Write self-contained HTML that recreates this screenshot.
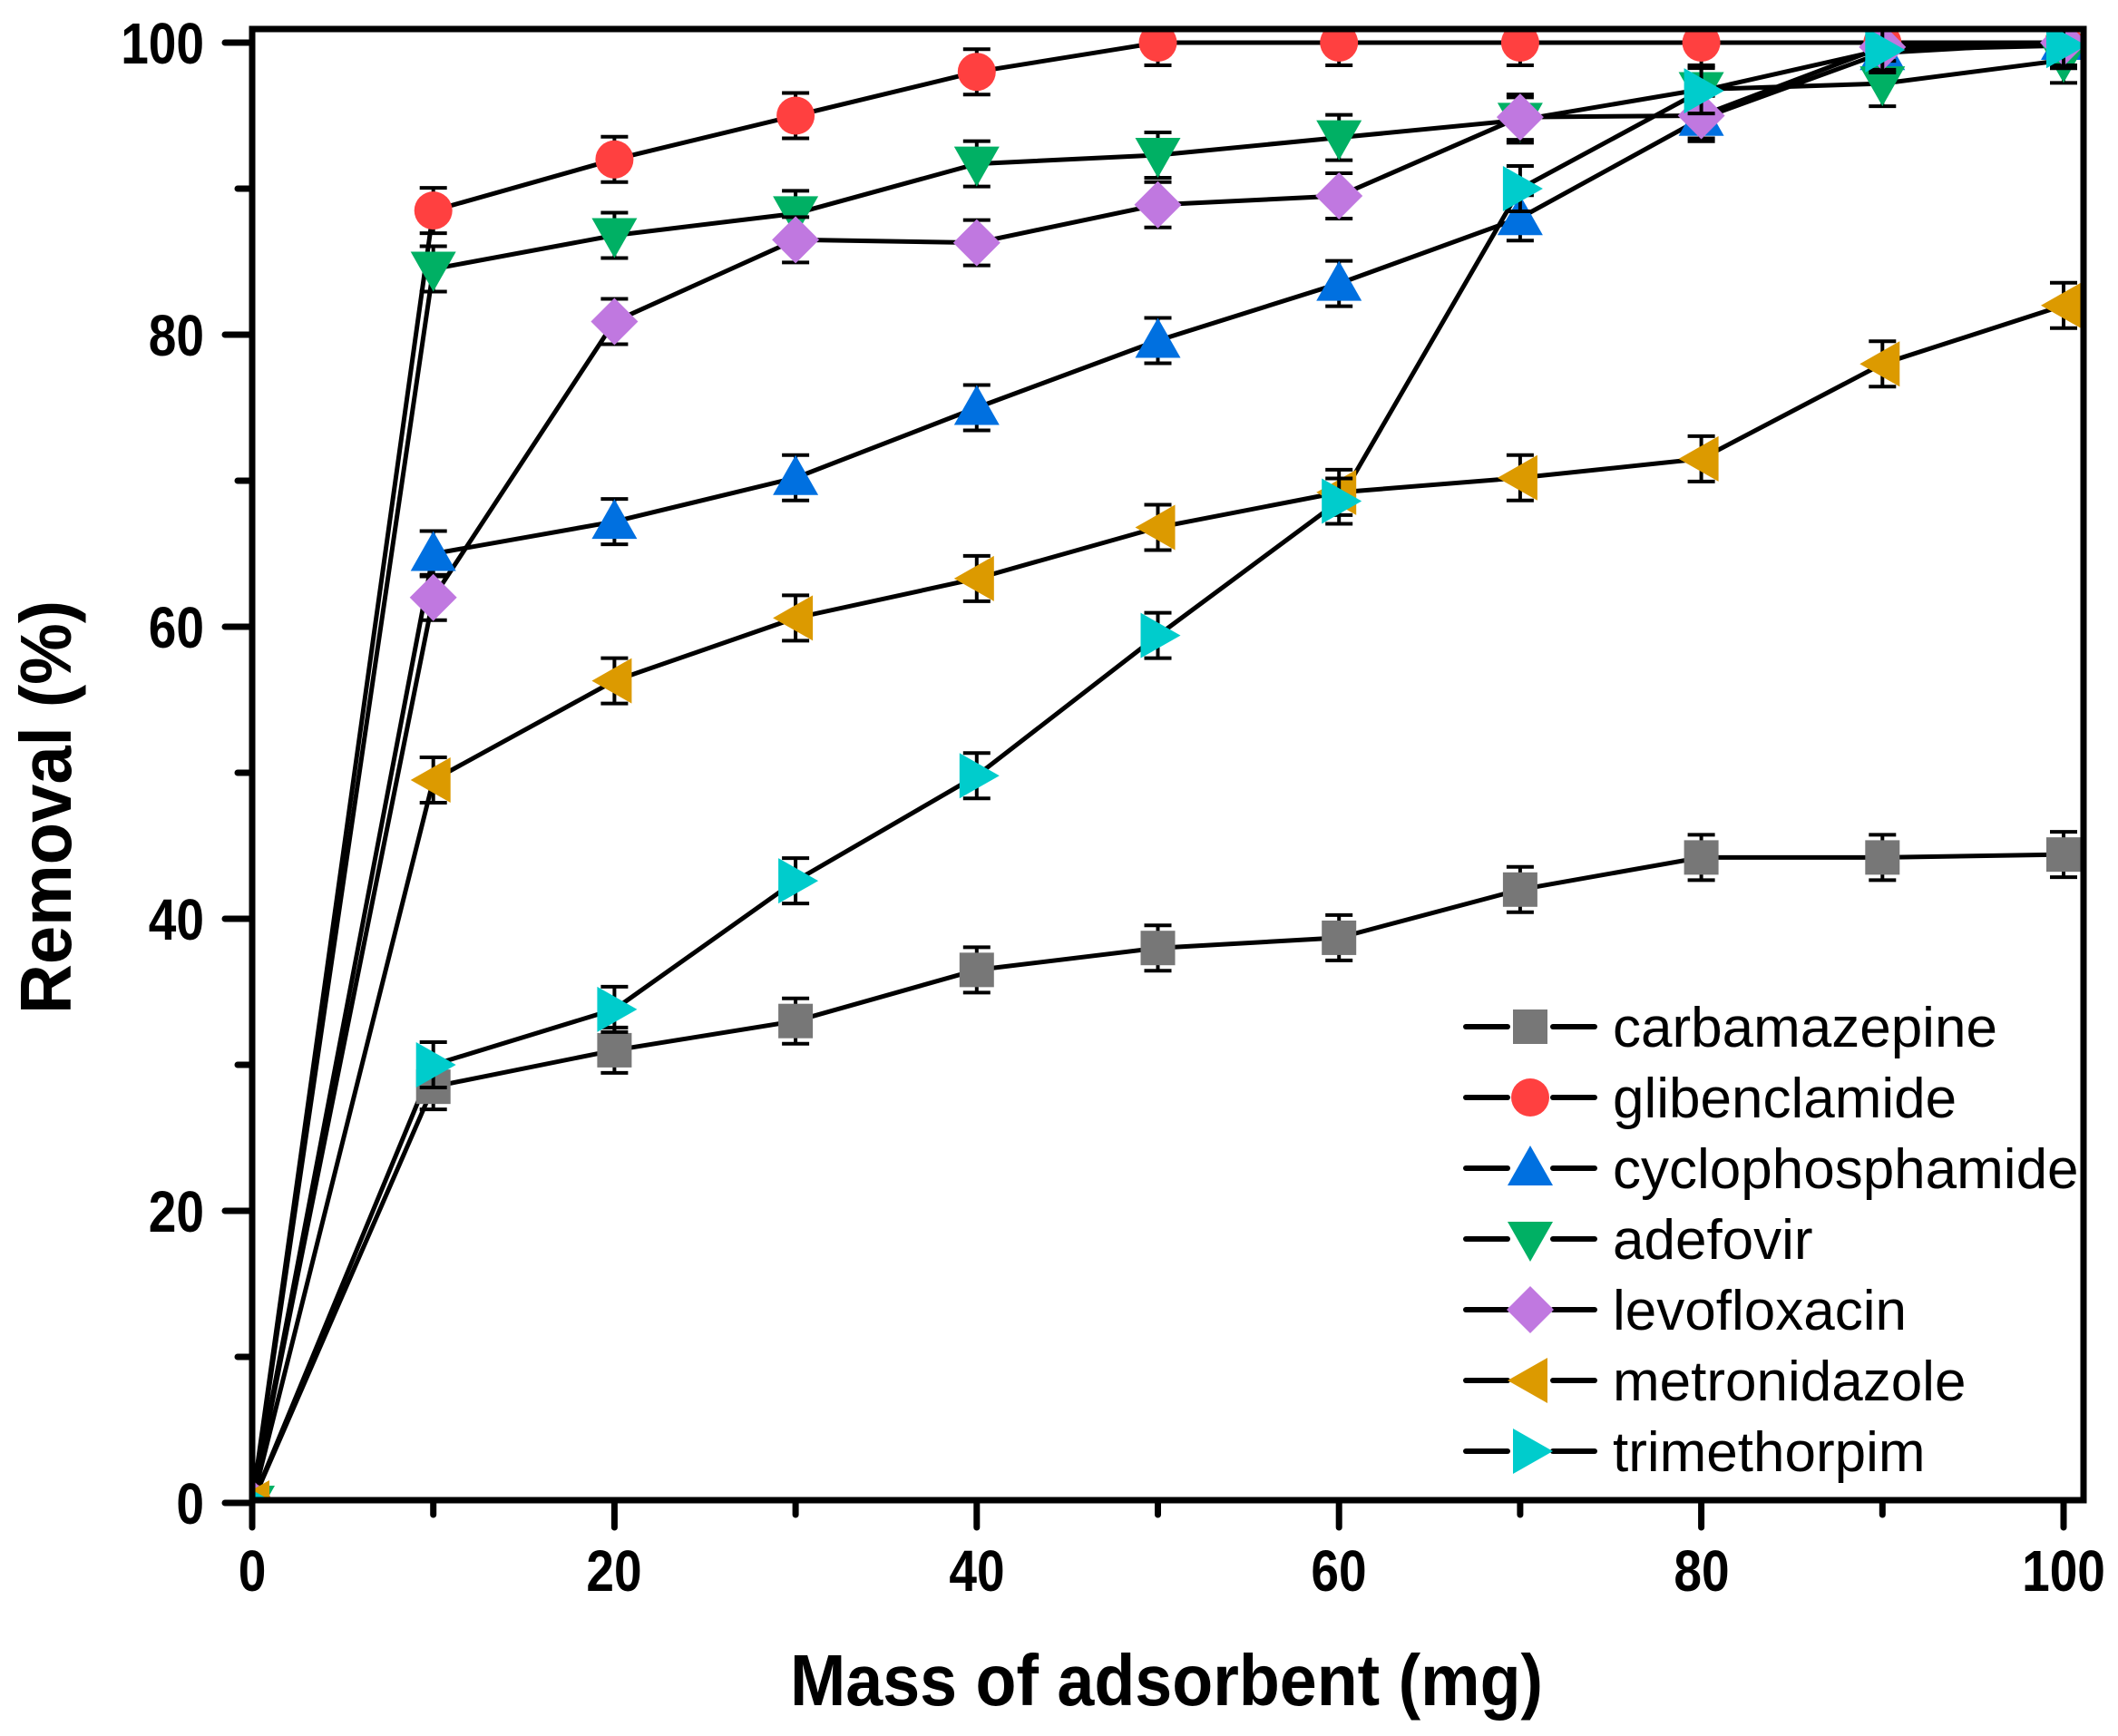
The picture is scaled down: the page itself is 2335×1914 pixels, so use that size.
<!DOCTYPE html>
<html><head><meta charset="utf-8"><style>
html,body{margin:0;padding:0;background:#fff;}
svg{display:block;}
text{font-family:"Liberation Sans",Arial,sans-serif;}
</style></head><body>
<svg id="s" width="2335" height="1914" viewBox="0 0 2335 1914" xmlns="http://www.w3.org/2000/svg">
<defs><clipPath id="c"><rect x="278" y="32" width="2019" height="1622"/></clipPath></defs>
<g id="plot" clip-path="url(#c)"></g>
<g id="axes" stroke="#000" stroke-width="7" fill="none" stroke-linecap="round">
<rect x="278" y="32" width="2019" height="1622"/>
</g>
<g font-weight="bold" font-size="64" text-anchor="end">
<text transform="translate(225,70) scale(0.86,1)">100</text>
<text transform="translate(225,392) scale(0.86,1)">80</text>
<text transform="translate(225,714) scale(0.86,1)">60</text>
<text transform="translate(225,1036) scale(0.86,1)">40</text>
<text transform="translate(225,1358) scale(0.86,1)">20</text>
<text transform="translate(225,1680) scale(0.86,1)">0</text>
</g>
<g font-weight="bold" font-size="64" text-anchor="middle">
<text transform="translate(278,1754) scale(0.86,1)">0</text>
<text transform="translate(677,1754) scale(0.86,1)">20</text>
<text transform="translate(1077,1754) scale(0.86,1)">40</text>
<text transform="translate(1476,1754) scale(0.86,1)">60</text>
<text transform="translate(1876,1754) scale(0.86,1)">80</text>
<text transform="translate(2275,1754) scale(0.86,1)">100</text>
</g>
<text transform="translate(1286,1880) scale(0.92,1)" font-weight="bold" font-size="80" text-anchor="middle">Mass of adsorbent (mg)</text>
<text transform="translate(78,890) rotate(-90) scale(0.95,1)" font-weight="bold" font-size="80" text-anchor="middle">Removal (%)</text>
<g id="leg"></g>
<g font-size="62">
<text x="1778" y="1154">carbamazepine</text>
<text x="1778" y="1232">glibenclamide</text>
<text x="1778" y="1310">cyclophosphamide</text>
<text x="1778" y="1388">adefovir</text>
<text x="1778" y="1466">levofloxacin</text>
<text x="1778" y="1544">metronidazole</text>
<text x="1778" y="1622">trimethorpim</text>
</g>
</svg>
<script>
var NS="http://www.w3.org/2000/svg";
function el(p,t,a){var e=document.createElementNS(NS,t);for(var k in a)e.setAttribute(k,a[k]);p.appendChild(e);return e;}
var ax=document.getElementById('axes');
function X(v){return 278+19.97*v;} function Y(v){return 1657-16.1*v;}
for(var v=0;v<=100;v+=10){var maj=v%20==0;var L=maj?30:16;
 el(ax,'line',{x1:278-L,y1:Y(v),x2:278,y2:Y(v)});
 el(ax,'line',{x1:X(v),y1:1654,x2:X(v),y2:1654+L});}
var S=[
["#777777","sq",[0,28.5,31,33,36.5,38,38.7,42,44.2,44.2,44.4]],
["#ff4040","ci",[0,88.5,92,95,98,100,100,100,100,100,100]],
["#0070e0","up",[0,65,67.2,70.2,75,79.6,83.5,88,94.8,99.3,100]],
["#00b064","dn",[0,84.5,86.8,88.3,91.7,92.3,93.5,94.7,96.8,97.2,98.8]],
["#c078e0","di",[0,62,80.9,86.5,86.3,88.9,89.5,94.9,95,99.7,100]],
["#dc9a00","lt",[0,49.5,56.3,60.6,63.3,66.8,69.2,70.2,71.5,78,82]],
["#00cccc","rt",[0,30,33.8,42.6,49.8,59.4,68.6,90,96.7,99.5,99.8]]];
function mk(g,t,x,y,c){var r=21;
 if(t=="sq")el(g,'rect',{x:x-19,y:y-19,width:38,height:38,fill:c});
 else if(t=="ci")el(g,'circle',{cx:x,cy:y,r:r,fill:c});
 else if(t=="up")el(g,'polygon',{points:(x)+","+(y-25)+" "+(x-25)+","+(y+19)+" "+(x+25)+","+(y+19),fill:c});
 else if(t=="dn")el(g,'polygon',{points:(x)+","+(y+25)+" "+(x-25)+","+(y-19)+" "+(x+25)+","+(y-19),fill:c});
 else if(t=="di")el(g,'polygon',{points:x+","+(y-26)+" "+(x+26)+","+y+" "+x+","+(y+26)+" "+(x-26)+","+y,fill:c});
 else if(t=="lt")el(g,'polygon',{points:(x-25)+","+y+" "+(x+19)+","+(y-25)+" "+(x+19)+","+(y+25),fill:c});
 else el(g,'polygon',{points:(x+25)+","+y+" "+(x-19)+","+(y-25)+" "+(x-19)+","+(y+25),fill:c});}
var pg=document.getElementById('plot');
S.forEach(function(s){var pts=s[2].map(function(v,i){return X(i*10)+","+Y(v)}).join(" ");
 el(pg,'polyline',{points:pts,fill:"none",stroke:"#000","stroke-width":5});});
S.forEach(function(s){s[2].forEach(function(v,i){var x=X(i*10),y=Y(v),e=25;
 if(i>0){el(pg,'line',{x1:x,y1:y-e,x2:x,y2:y+e,stroke:"#000","stroke-width":4});
 el(pg,'line',{x1:x-15,y1:y-e,x2:x+15,y2:y-e,stroke:"#000","stroke-width":4});
 el(pg,'line',{x1:x-15,y1:y+e,x2:x+15,y2:y+e,stroke:"#000","stroke-width":4});}
 mk(pg,s[1],x,y,s[0]);});});
var lg=document.getElementById('leg');
S.forEach(function(s,i){var y=1132+78*i;
 el(lg,'line',{x1:1616,y1:y,x2:1662,y2:y,stroke:"#000","stroke-width":6,"stroke-linecap":"round"});
 el(lg,'line',{x1:1712,y1:y,x2:1758,y2:y,stroke:"#000","stroke-width":6,"stroke-linecap":"round"});
 mk(lg,s[1],1687,y,s[0]);});
</script>
</body></html>
